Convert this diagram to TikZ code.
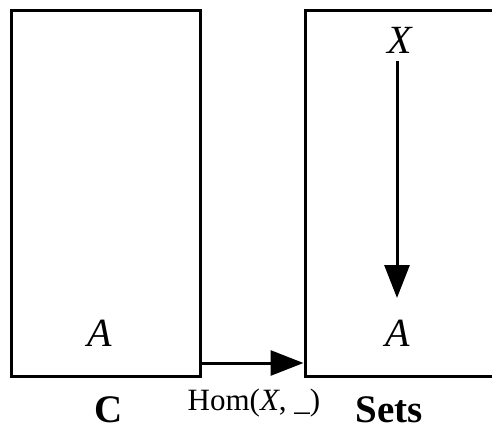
\documentclass[tikz,border=0pt]{standalone}
\usepackage{fontspec}
\setmainfont{Liberation Serif}
\usetikzlibrary{arrows.meta}
\begin{document}
\begin{tikzpicture}[x=1pt,y=-1pt,
  catbox/.style={draw, line width=3pt, rectangle, inner sep=0pt},
  objlabel/.style={font=\fontsize{40}{44}\selectfont\itshape, inner sep=0pt},
  catlabel/.style={font=\fontsize{39}{43}\selectfont\bfseries, inner sep=0pt, anchor=base},
  arr/.style={line width=3pt, -{Triangle[length=33pt,width=25pt]}}]
\useasboundingbox (0,0) rectangle (492,430);
\node[catbox, minimum width=189pt, minimum height=366pt] (C) at (105.5,193.5) {};
\node[catbox, minimum width=188pt, minimum height=366pt] (S) at (399,193.5) {};
\node[objlabel] (AC) at (100,333) {A};
\node[objlabel] (X) at (400,40) {X};
\node[objlabel] (AS) at (398,333) {A};
\node[catlabel] (Cl) at (109,422) {C};
\node[catlabel] (Sl) at (389,422) {Sets};
\node[font=\fontsize{31}{35}\selectfont, inner sep=0pt] (hom) at (254,403) {Hom(\textit{X}, \_)};
\coordinate (h1) at (C.east |- 0,363);
\coordinate (h2) at (S.west |- 0,363);
\draw[arr] (h1) -- (h2);
\draw[arr] (397,61) -- (397,298);
\end{tikzpicture}
\end{document}
